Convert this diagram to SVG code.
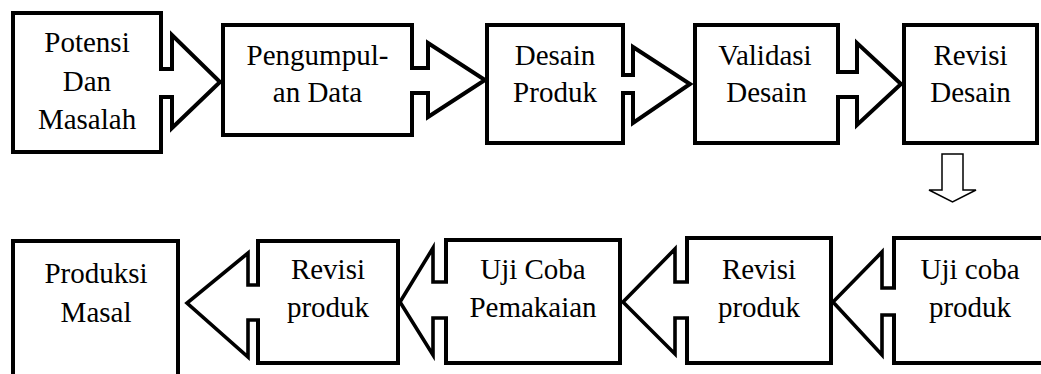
<svg xmlns="http://www.w3.org/2000/svg" width="1041" height="374" viewBox="0 0 1041 374">
<style>
.box{fill:#fff;stroke:#000;stroke-width:4}
.arr{fill:#fff;stroke:#000;stroke-width:4}
.arrb{fill:#fff;stroke:#000;stroke-width:3.6}
.thin{fill:#fff;stroke:#000;stroke-width:1.5}
</style>
<rect width="1041" height="374" fill="#fff"/>
<g id="n1"><rect class="box" x="13" y="13" width="148" height="139"/><text x="44.3" y="52" font-family="Liberation Serif" font-size="29">Potensi</text><text x="62.8" y="91" font-family="Liberation Serif" font-size="29">Dan</text><text x="37.9" y="129" font-family="Liberation Serif" font-size="29">Masalah</text></g>
<g id="n2"><rect class="box" x="223" y="25" width="189" height="110"/><text x="246.6" y="65" font-family="Liberation Serif" font-size="29">Pengumpul-</text><text x="272.8" y="102" font-family="Liberation Serif" font-size="29">an Data</text></g>
<g id="n3"><rect class="box" x="487" y="25" width="136" height="118"/><text x="514.7" y="65" font-family="Liberation Serif" font-size="29">Desain</text><text x="513.1" y="102" font-family="Liberation Serif" font-size="29">Produk</text></g>
<g id="n4"><rect class="box" x="695" y="25" width="143" height="118"/><text x="718.2" y="65" font-family="Liberation Serif" font-size="29">Validasi</text><text x="726.2" y="102" font-family="Liberation Serif" font-size="29">Desain</text></g>
<g id="n5"><rect class="box" x="904" y="25" width="133" height="118"/><text x="933.4" y="65" font-family="Liberation Serif" font-size="29">Revisi</text><text x="930.2" y="102" font-family="Liberation Serif" font-size="29">Desain</text></g>
<g id="n6"><rect class="box" x="13" y="241" width="165" height="150"/><text x="44.4" y="283" font-family="Liberation Serif" font-size="29">Produksi</text><text x="60.6" y="322" font-family="Liberation Serif" font-size="29">Masal</text></g>
<g id="n7"><rect class="box" x="258" y="241" width="140" height="122"/><text x="290.9" y="279" font-family="Liberation Serif" font-size="29">Revisi</text><text x="286.9" y="317" font-family="Liberation Serif" font-size="29">produk</text></g>
<g id="n8"><rect class="box" x="446" y="240" width="174" height="123"/><text x="480.2" y="279" font-family="Liberation Serif" font-size="29">Uji Coba</text><text x="469.4" y="317" font-family="Liberation Serif" font-size="29">Pemakaian</text></g>
<g id="n9"><rect class="box" x="687" y="238" width="144" height="125"/><text x="721.9" y="279" font-family="Liberation Serif" font-size="29">Revisi</text><text x="717.9" y="317" font-family="Liberation Serif" font-size="29">produk</text></g>
<g id="n10"><rect class="box" x="894" y="238" width="160" height="125"/><text x="920.5" y="279" font-family="Liberation Serif" font-size="29">Uji coba</text><text x="928.9" y="317" font-family="Liberation Serif" font-size="29">produk</text></g>
<g id="connectors">
<path class="arr" d="M159,69 H172 V35 L220,82 L172,128 V97 H159"/>
<path class="arr" d="M410,68 H428 V43 L485,80 L428,117 V93 H410"/>
<path class="arr" d="M621,75 H633 V47 L690,84 L633,123 V93 H621"/>
<path class="arr" d="M836,72 H857 V43 L901,84 L857,125 V97 H836"/>
<path class="thin" d="M942,154 H963 V190 H976 L952.5,202 L929,190 H942 Z"/>
<path class="arrb" d="M260,285 H248 V253 L187,303 L248,357 V320 H260"/>
<path class="arrb" d="M448,282 H433 V248 L400,302 L433,355 V318 H448"/>
<path class="arrb" d="M689,282 H675 V249 L623,302 L675,354 V318 H689"/>
<path class="arrb" d="M896,288 H882 V252 L833,302 L882,355 V315 H896"/>
</g>
</svg>
